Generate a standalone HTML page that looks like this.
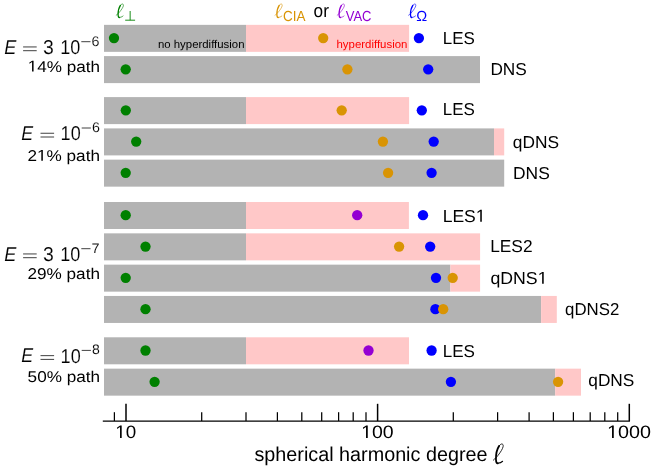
<!DOCTYPE html>
<html><head><meta charset="utf-8"><title>chart</title>
<style>
html,body{margin:0;padding:0;background:#fff;}
svg{display:block;will-change:transform;}
text{font-family:"Liberation Sans",sans-serif;fill:#000;text-rendering:geometricPrecision;}
.it{font-style:italic;}
.thin{stroke:#fff;stroke-width:0.12px;}
</style></head><body>
<svg width="654" height="471" viewBox="0 0 654 471">
<rect x="0" y="0" width="654" height="471" fill="#fff"/>
<rect x="104.0" y="24.85" width="142.0" height="27.0" fill="#b3b3b3"/>
<rect x="246.0" y="24.85" width="163.1" height="27.0" fill="#ffc8c8"/>
<rect x="104.0" y="56.099999999999994" width="376.0" height="27.0" fill="#b3b3b3"/>
<rect x="104.0" y="97.1" width="142.0" height="27.0" fill="#b3b3b3"/>
<rect x="246.0" y="97.1" width="163.1" height="27.0" fill="#ffc8c8"/>
<rect x="104.0" y="128.4" width="390.0" height="27.0" fill="#b3b3b3"/>
<rect x="494.0" y="128.4" width="10.2" height="27.0" fill="#ffc8c8"/>
<rect x="104.0" y="159.65" width="400.2" height="27.0" fill="#b3b3b3"/>
<rect x="104.0" y="202.0" width="142.0" height="27.0" fill="#b3b3b3"/>
<rect x="246.0" y="202.0" width="162.9" height="27.0" fill="#ffc8c8"/>
<rect x="104.0" y="233.35" width="142.0" height="27.0" fill="#b3b3b3"/>
<rect x="246.0" y="233.35" width="234.1" height="27.0" fill="#ffc8c8"/>
<rect x="104.0" y="264.65" width="346.4" height="27.0" fill="#b3b3b3"/>
<rect x="450.4" y="264.65" width="29.7" height="27.0" fill="#ffc8c8"/>
<rect x="104.0" y="295.95" width="437.1" height="27.0" fill="#b3b3b3"/>
<rect x="541.1" y="295.95" width="15.7" height="27.0" fill="#ffc8c8"/>
<rect x="104.0" y="337.3" width="142.0" height="27.0" fill="#b3b3b3"/>
<rect x="246.0" y="337.3" width="163.0" height="27.0" fill="#ffc8c8"/>
<rect x="104.0" y="368.65" width="451.2" height="27.0" fill="#b3b3b3"/>
<rect x="555.2" y="368.65" width="25.8" height="27.0" fill="#ffc8c8"/>
<circle cx="114.0" cy="38.05" r="5.15" fill="#008000"/>
<circle cx="323.2" cy="38.05" r="5.15" fill="#d99404"/>
<circle cx="418.9" cy="38.05" r="5.15" fill="#0000ff"/>
<circle cx="125.7" cy="69.3" r="5.15" fill="#008000"/>
<circle cx="347.4" cy="69.3" r="5.15" fill="#d99404"/>
<circle cx="428.2" cy="69.3" r="5.15" fill="#0000ff"/>
<circle cx="125.8" cy="110.3" r="5.15" fill="#008000"/>
<circle cx="341.7" cy="110.3" r="5.15" fill="#d99404"/>
<circle cx="421.8" cy="110.3" r="5.15" fill="#0000ff"/>
<circle cx="136.2" cy="141.6" r="5.15" fill="#008000"/>
<circle cx="382.9" cy="141.6" r="5.15" fill="#d99404"/>
<circle cx="433.7" cy="141.6" r="5.15" fill="#0000ff"/>
<circle cx="125.7" cy="172.85" r="5.15" fill="#008000"/>
<circle cx="388.1" cy="172.85" r="5.15" fill="#d99404"/>
<circle cx="431.6" cy="172.85" r="5.15" fill="#0000ff"/>
<circle cx="125.7" cy="215.2" r="5.15" fill="#008000"/>
<circle cx="357.2" cy="215.2" r="5.15" fill="#9400d3"/>
<circle cx="423.0" cy="215.2" r="5.15" fill="#0000ff"/>
<circle cx="145.5" cy="246.55" r="5.15" fill="#008000"/>
<circle cx="399.1" cy="246.55" r="5.15" fill="#d99404"/>
<circle cx="430.2" cy="246.55" r="5.15" fill="#0000ff"/>
<circle cx="125.7" cy="277.85" r="5.15" fill="#008000"/>
<circle cx="436.0" cy="277.85" r="5.15" fill="#0000ff"/>
<circle cx="452.7" cy="277.85" r="5.15" fill="#d99404"/>
<circle cx="145.5" cy="309.15" r="5.15" fill="#008000"/>
<circle cx="435.4" cy="309.15" r="5.15" fill="#0000ff"/>
<circle cx="443.2" cy="309.15" r="5.15" fill="#d99404"/>
<circle cx="145.5" cy="350.5" r="5.15" fill="#008000"/>
<circle cx="368.5" cy="350.5" r="5.15" fill="#9400d3"/>
<circle cx="431.6" cy="350.5" r="5.15" fill="#0000ff"/>
<circle cx="154.6" cy="381.85" r="5.15" fill="#008000"/>
<circle cx="450.9" cy="381.85" r="5.15" fill="#0000ff"/>
<circle cx="558.1" cy="381.85" r="5.15" fill="#d99404"/>
<text transform="translate(442.71,44.3) scale(0.9808,1)" font-size="17.3">LES</text>
<text transform="translate(490.39,75.2) scale(0.9967,1)" font-size="17.3">DNS</text>
<text transform="translate(442.71,114.9) scale(0.9808,1)" font-size="17.3">LES</text>
<text transform="translate(512.77,147.8) scale(1.0016,1)" font-size="17.3">qDNS</text>
<text transform="translate(513.07,178.9) scale(1.0055,1)" font-size="17.3">DNS</text>
<g transform="translate(442.66,221.7) scale(1.0145,1)"><text x="0.00" font-size="17.3">LES</text><path transform="translate(32.70,0) scale(0.00845,-0.00845)" d="M515,0 L515,1237 L197,1010 L197,1180 L530,1409 L696,1409 L696,0 Z" fill="#000"/></g>
<text transform="translate(490.18,252.3) scale(1.0017,1)" font-size="17.3">LES2</text>
<g transform="translate(490.46,283.8) scale(1.0234,1)"><text x="0.00" font-size="17.3">qDNS</text><path transform="translate(46.15,0) scale(0.00845,-0.00845)" d="M515,0 L515,1237 L197,1010 L197,1180 L530,1409 L696,1409 L696,0 Z" fill="#000"/></g>
<text transform="translate(565.09,314.5) scale(0.9728,1)" font-size="17.3">qDNS2</text>
<text transform="translate(442.70,356.5) scale(0.9841,1)" font-size="17.3">LES</text>
<text transform="translate(588.27,386.4) scale(0.9994,1)" font-size="17.3">qDNS</text>
<text transform="translate(157.94,48.4) scale(1.0085,1)" font-size="11.3">no hyperdiffusion</text>
<text transform="translate(336.51,48.4) scale(1.0111,1)" font-size="11.3" style="fill:#ff0000">hyperdiffusion</text>
<g stroke="#000" stroke-width="1.25" fill="none">
<path d="M102.8,421.05 H629.95" stroke-width="1.3"/>
<path d="M114.4,421 V412.2"/>
<path d="M201.7,421 V412.2"/>
<path d="M246.0,421 V412.2"/>
<path d="M277.4,421 V412.2"/>
<path d="M301.8,421 V412.2"/>
<path d="M321.7,421 V412.2"/>
<path d="M338.6,421 V412.2"/>
<path d="M353.2,421 V412.2"/>
<path d="M366.0,421 V412.2"/>
<path d="M453.3,421 V412.2"/>
<path d="M497.6,421 V412.2"/>
<path d="M529.1,421 V412.2"/>
<path d="M553.4,421 V412.2"/>
<path d="M573.4,421 V412.2"/>
<path d="M590.2,421 V412.2"/>
<path d="M604.8,421 V412.2"/>
<path d="M617.7,421 V412.2"/>
<path d="M126.0,421 V403.8" stroke-width="1.5"/>
<path d="M377.6,421 V403.8" stroke-width="1.5"/>
<path d="M629.3,421 V403.8" stroke-width="1.5"/>
</g>
<g transform="translate(115.29,437.9) scale(1.0462,1)"><path transform="translate(0.00,0) scale(0.00879,-0.00879)" d="M515,0 L515,1237 L197,1010 L197,1180 L530,1409 L696,1409 L696,0 Z" fill="#000"/><text x="10.01" font-size="18.0">0</text></g>
<g transform="translate(361.12,437.9) scale(1.0834,1)"><path transform="translate(0.00,0) scale(0.00879,-0.00879)" d="M515,0 L515,1237 L197,1010 L197,1180 L530,1409 L696,1409 L696,0 Z" fill="#000"/><text x="10.01" font-size="18.0">00</text></g>
<g transform="translate(607.05,437.9) scale(1.0982,1)"><path transform="translate(0.00,0) scale(0.00879,-0.00879)" d="M515,0 L515,1237 L197,1010 L197,1180 L530,1409 L696,1409 L696,0 Z" fill="#000"/><text x="10.01" font-size="18.0">000</text></g>
<text transform="translate(254.45,461.3) scale(0.9887,1)" font-size="20.0">spherical harmonic degree</text>
<g transform="translate(493.4,443.6) scale(1.22,1.39)" stroke="#000" fill="none" stroke-linecap="round" stroke-linejoin="round"><path stroke-width="0.65" d="M0,11.9 C3,10 8.6,3.4 8.0,1.2 C7.6,-0.3 6.0,0.0 4.7,1.7"/><path stroke-width="1.45" d="M4.7,1.7 C3.0,4.0 2.0,8.5 2.1,11.5 C2.2,13.8 2.9,14.3 3.6,14.2"/><path stroke-width="0.75" d="M3.6,14.2 C4.8,14.1 6.6,13.6 7.6,12.7"/></g>
<g transform="translate(116.2,3.75) scale(0.9,0.965)" stroke="#008000" fill="none" stroke-linecap="round" stroke-linejoin="round"><path stroke-width="0.65" d="M0,11.9 C3,10 8.6,3.4 8.0,1.2 C7.6,-0.3 6.0,0.0 4.7,1.7"/><path stroke-width="1.45" d="M4.7,1.7 C3.0,4.0 2.0,8.5 2.1,11.5 C2.2,13.8 2.9,14.3 3.6,14.2"/><path stroke-width="0.75" d="M3.6,14.2 C4.8,14.1 6.6,13.6 7.6,12.7"/></g>
<path d="M125.2,20.2 H135.1 M130.15,20.2 V11" stroke="#008000" stroke-width="0.9" fill="none"/>
<g transform="translate(275.0,3.75) scale(0.9,0.965)" stroke="#d99404" fill="none" stroke-linecap="round" stroke-linejoin="round"><path stroke-width="0.65" d="M0,11.9 C3,10 8.6,3.4 8.0,1.2 C7.6,-0.3 6.0,0.0 4.7,1.7"/><path stroke-width="1.45" d="M4.7,1.7 C3.0,4.0 2.0,8.5 2.1,11.5 C2.2,13.8 2.9,14.3 3.6,14.2"/><path stroke-width="0.75" d="M3.6,14.2 C4.8,14.1 6.6,13.6 7.6,12.7"/></g>
<text transform="translate(282.91,20.6) scale(0.9250,1)" font-size="14.6" style="fill:#d99404">CIA</text>
<text transform="translate(313.58,17.4) scale(0.9257,1)" font-size="18.6">or</text>
<g transform="translate(337.2,3.75) scale(0.9,0.965)" stroke="#9400d3" fill="none" stroke-linecap="round" stroke-linejoin="round"><path stroke-width="0.65" d="M0,11.9 C3,10 8.6,3.4 8.0,1.2 C7.6,-0.3 6.0,0.0 4.7,1.7"/><path stroke-width="1.45" d="M4.7,1.7 C3.0,4.0 2.0,8.5 2.1,11.5 C2.2,13.8 2.9,14.3 3.6,14.2"/><path stroke-width="0.75" d="M3.6,14.2 C4.8,14.1 6.6,13.6 7.6,12.7"/></g>
<text transform="translate(345.74,20.6) scale(0.8912,1)" font-size="14.6" style="fill:#9400d3">VAC</text>
<g transform="translate(408.6,3.75) scale(0.9,0.965)" stroke="#0000ff" fill="none" stroke-linecap="round" stroke-linejoin="round"><path stroke-width="0.65" d="M0,11.9 C3,10 8.6,3.4 8.0,1.2 C7.6,-0.3 6.0,0.0 4.7,1.7"/><path stroke-width="1.45" d="M4.7,1.7 C3.0,4.0 2.0,8.5 2.1,11.5 C2.2,13.8 2.9,14.3 3.6,14.2"/><path stroke-width="0.75" d="M3.6,14.2 C4.8,14.1 6.6,13.6 7.6,12.7"/></g>
<text transform="translate(416.18,20.75) scale(1.0034,1)" font-size="14.6" style="fill:#0000ff">Ω</text>
<text class="it thin" transform="translate(4.24,53.7) scale(0.9063,1)" font-size="20.0">E</text>
<path d="M23.1,46.95 h13.6 M23.1,50.70 h13.6" stroke="#000" stroke-width="0.75" fill="none"/>
<text class="thin" transform="translate(43.06,53.800000000000004) scale(0.9702,1)" font-size="20.0">3</text>
<text class="thin" transform="translate(60.22,53.800000000000004) scale(0.9026,1)" font-size="20.0">10</text>
<path d="M81.3,41.70 h9.2" stroke="#000" stroke-width="0.75"/>
<text class="thin" transform="translate(91.57,45.7) scale(1.0365,1)" font-size="13.8">6</text>
<g transform="translate(27.76,71.5) scale(1.0961,1)"><path transform="translate(0.00,0) scale(0.00762,-0.00762)" d="M515,0 L515,1237 L197,1010 L197,1180 L530,1409 L696,1409 L696,0 Z" fill="#000"/><text x="8.68" font-size="15.6">4% path</text></g>
<text class="it thin" transform="translate(21.35,140.0) scale(0.8908,1)" font-size="20.0">E</text>
<path d="M40.5,133.25 h13.6 M40.5,137.00 h13.6" stroke="#000" stroke-width="0.75" fill="none"/>
<text class="thin" transform="translate(60.62,140.1) scale(0.9026,1)" font-size="20.0">10</text>
<path d="M81.7,128.00 h9.2" stroke="#000" stroke-width="0.75"/>
<text class="thin" transform="translate(91.97,132.0) scale(1.0365,1)" font-size="13.8">6</text>
<g transform="translate(27.44,160.7) scale(1.1010,1)"><text x="0.00" font-size="15.6">2</text><path transform="translate(8.68,0) scale(0.00762,-0.00762)" d="M515,0 L515,1237 L197,1010 L197,1180 L530,1409 L696,1409 L696,0 Z" fill="#000"/><text x="17.35" font-size="15.6">% path</text></g>
<text class="it thin" transform="translate(4.24,260.7) scale(0.9063,1)" font-size="20.0">E</text>
<path d="M23.1,253.95 h13.6 M23.1,257.70 h13.6" stroke="#000" stroke-width="0.75" fill="none"/>
<text class="thin" transform="translate(43.06,260.8) scale(0.9702,1)" font-size="20.0">3</text>
<text class="thin" transform="translate(60.22,260.8) scale(0.9026,1)" font-size="20.0">10</text>
<path d="M81.3,248.70 h9.2" stroke="#000" stroke-width="0.75"/>
<text class="thin" transform="translate(91.56,252.7) scale(1.0521,1)" font-size="13.8">7</text>
<text transform="translate(27.44,278.5) scale(1.1010,1)" font-size="15.6">29% path</text>
<text class="it thin" transform="translate(21.35,362.4) scale(0.8908,1)" font-size="20.0">E</text>
<path d="M40.5,355.65 h13.6 M40.5,359.40 h13.6" stroke="#000" stroke-width="0.75" fill="none"/>
<text class="thin" transform="translate(60.62,362.5) scale(0.9026,1)" font-size="20.0">10</text>
<path d="M81.7,350.40 h9.2" stroke="#000" stroke-width="0.75"/>
<text class="thin" transform="translate(92.09,354.4) scale(1.0192,1)" font-size="13.8">8</text>
<text transform="translate(27.61,381.8) scale(1.0983,1)" font-size="15.6">50% path</text>
</svg>
</body></html>
